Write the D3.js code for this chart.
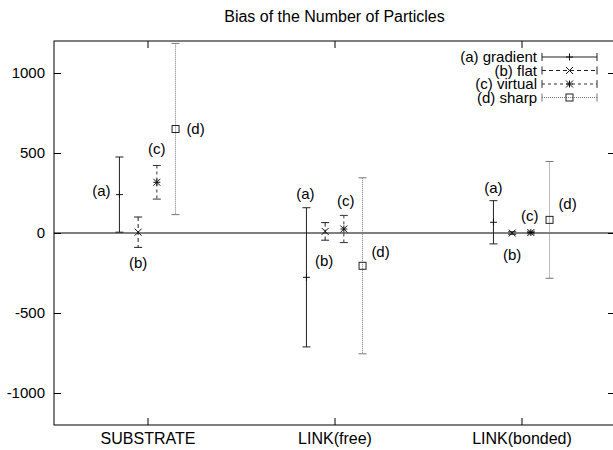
<!DOCTYPE html>
<html>
<head>
<meta charset="utf-8">
<script src="https://cdn.jsdelivr.net/npm/d3@7"></script>
<style>
  body { margin: 0; background: #fff; }
  svg { display: block; font-family: "Liberation Sans", Arial, sans-serif; }
  .tick text { font-size: 15px; fill: #000; }
  .x-axis .tick text { font-size: 16px; }
</style>
</head>
<body>
<svg width="613" height="450"></svg>
<script>
// data
const categories = ['SUBSTRATE', 'LINK(free)', 'LINK(bonded)'];
const seriesNames = ['(a) gradient', '(b) flat', '(c) virtual', '(d) sharp'];
const seriesTags = ['(a)', '(b)', '(c)', '(d)'];
const gradientMean = [240, -277, 67];
const gradientErr = [235, 435, 135];
const flatMean = [5, 10, 0];
const flatErr = [95, 55, 8];
const virtualMean = [317, 25, 3];
const virtualErr = [105, 85, 8];
const sharpMean = [650, -205, 82];
const sharpErr = [535, 550, 365];
const yTicks = [-1000, -500, 0, 500, 1000];

const svg = d3.select('svg');
const margin = { top: 41, right: -2, bottom: 25, left: 54 };
const width = +svg.attr('width');
const height = +svg.attr('height');
const innerWidth = width - margin.left - margin.right;
const innerHeight = height - margin.top - margin.bottom;

const xScale = d3.scaleLinear().domain([0.5, 3.5]).range([0, innerWidth]);
const yScale = d3.scaleLinear().domain([-1200, 1200]).range([innerHeight, 0]);

const means = [gradientMean, flatMean, virtualMean, sharpMean];
const errs = [gradientErr, flatErr, virtualErr, sharpErr];
const offsets = [-0.15, -0.05, 0.05, 0.15];
const styles = [
  { stroke: '#222', dash: null, point: 'plus' },
  { stroke: '#222', dash: '4,3', point: 'cross' },
  { stroke: '#333', dash: '3,3', point: 'star' },
  { stroke: '#777', dash: '1,1', point: 'square' }
];
// where each "(x)" tag sits, px from its point: [category][series]
const tagOffsets = [
  [[-18, -4], [0, 31], [0, -34], [20, 0]],
  [[-1, -84], [-1, 29], [2, -28], [18, -14]],
  [[0, -35], [0, 22], [-1, -17], [18, -16]]
];

const g = svg.append('g').attr('transform', `translate(${margin.left},${margin.top})`);

svg.append('text')
  .attr('x', margin.left + innerWidth / 2)
  .attr('y', 22)
  .attr('text-anchor', 'middle')
  .attr('font-size', 16)
  .text('Bias of the Number of Particles');

// axes with inward ticks
const yAxisG = g.append('g')
  .call(d3.axisLeft(yScale).tickValues(yTicks).tickFormat(d => String(d))
    .tickSizeInner(-7).tickSizeOuter(0).tickPadding(9));
yAxisG.select('.domain').remove();

const yAxisR = g.append('g').attr('transform', `translate(${innerWidth},0)`)
  .call(d3.axisRight(yScale).tickValues(yTicks).tickSizeInner(-7).tickSizeOuter(0).tickFormat(''));
yAxisR.select('.domain').remove();

const xAxisG = g.append('g').attr('class', 'x-axis').attr('transform', `translate(0,${innerHeight})`)
  .call(d3.axisBottom(xScale).tickValues([1, 2, 3]).tickFormat(d => categories[d - 1])
    .tickSizeInner(-7).tickSizeOuter(0).tickPadding(8));
xAxisG.select('.domain').remove();

const xAxisT = g.append('g')
  .call(d3.axisTop(xScale).tickValues([1, 2, 3]).tickFormat('').tickSizeInner(-7).tickSizeOuter(0));
xAxisT.select('.domain').remove();

g.selectAll('.tick line').attr('stroke', '#000');

g.append('rect')
  .attr('width', innerWidth)
  .attr('height', innerHeight)
  .attr('fill', 'none')
  .attr('stroke', '#000');

// zero axis
g.append('line')
  .attr('x1', 0).attr('x2', innerWidth)
  .attr('y1', yScale(0)).attr('y2', yScale(0))
  .attr('stroke', '#000');

const drawPoint = (sel, kind, x, y, color) => {
  const r = 3.5;
  if (kind === 'plus' || kind === 'star') {
    sel.append('path').attr('d', `M${x - r},${y}H${x + r}M${x},${y - r}V${y + r}`)
      .attr('stroke', color).attr('fill', 'none');
  }
  if (kind === 'cross' || kind === 'star') {
    sel.append('path').attr('d', `M${x - r},${y - r}L${x + r},${y + r}M${x - r},${y + r}L${x + r},${y - r}`)
      .attr('stroke', color).attr('fill', 'none');
  }
  if (kind === 'square') {
    sel.append('rect').attr('x', x - r).attr('y', y - r).attr('width', 2 * r).attr('height', 2 * r)
      .attr('stroke', '#222').attr('fill', 'none');
  }
};

const rows = [];
means.forEach((m, s) => m.forEach((v, c) => rows.push({ s, c, v, e: errs[s][c] })));

const bars = g.selectAll('g.bar').data(rows).enter().append('g').attr('class', 'bar');

bars.each(function (d) {
  const sel = d3.select(this);
  const st = styles[d.s];
  const x = xScale(d.c + 1 + offsets[d.s]);
  const yTop = yScale(d.v + d.e);
  const yBot = yScale(d.v - d.e);
  sel.append('line')
    .attr('x1', x).attr('x2', x).attr('y1', yTop).attr('y2', yBot)
    .attr('stroke', st.stroke).attr('stroke-dasharray', st.dash);
  [yTop, yBot].forEach(yy => sel.append('line')
    .attr('x1', x - 4).attr('x2', x + 4).attr('y1', yy).attr('y2', yy)
    .attr('stroke', st.stroke));
  drawPoint(sel, st.point, x, yScale(d.v), '#111');
  const off = tagOffsets[d.c][d.s];
  sel.append('text')
    .attr('x', x + off[0])
    .attr('y', yScale(d.v) + off[1])
    .attr('dy', '0.35em')
    .attr('text-anchor', 'middle')
    .attr('font-size', 15)
    .text(seriesTags[d.s]);
});

// legend
const legend = g.append('g').attr('transform', `translate(${485},${16})`);
seriesNames.forEach((name, i) => {
  const row = legend.append('g').attr('transform', `translate(0,${i * 13.5})`);
  const st = styles[i];
  row.append('text').attr('x', -2).attr('dy', '0.35em').attr('text-anchor', 'end')
    .attr('font-size', 15).text(name);
  row.append('line').attr('x1', 3).attr('x2', 58).attr('stroke', st.stroke)
    .attr('stroke-dasharray', st.dash);
  [3, 58].forEach(xx => row.append('line').attr('x1', xx).attr('x2', xx).attr('y1', -4).attr('y2', 4)
    .attr('stroke', st.stroke));
  drawPoint(row, st.point, 30.5, 0, '#111');
});
</script>
</body>
</html>
